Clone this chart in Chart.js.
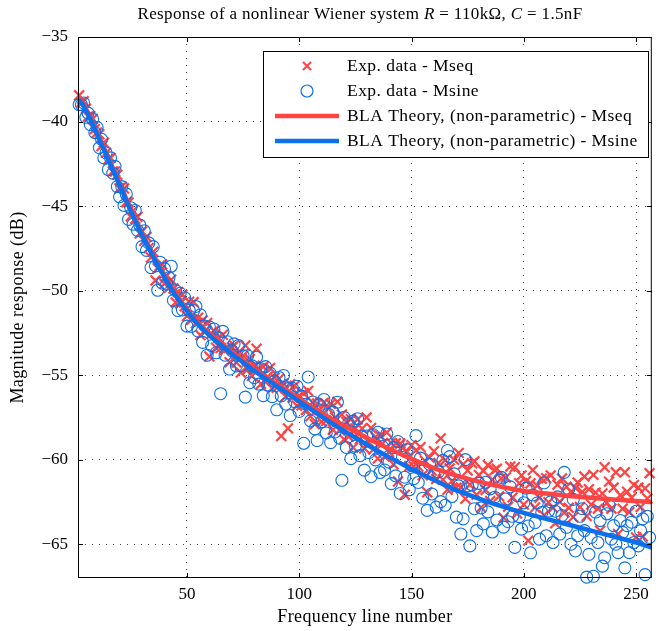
<!DOCTYPE html>
<html><head><meta charset="utf-8">
<script src="https://cdn.jsdelivr.net/npm/chart.js@4.4.0/dist/chart.umd.min.js"></script>
<style>html,body{margin:0;padding:0;background:#fff;}canvas{display:block;}</style>
</head><body>
<canvas id="c" width="661" height="631"></canvas>
<script>
// ---- data ----
const firstLine = 2; // frequency lines 2..256
const mseqMag = [
-38.45,-38.88,-38.8,-39.25,-39.7,-39.68,-39.85,-40.45,-40.65,-40.75,
-41.45,-41.25,-41.85,-42.25,-42.15,-42.95,-42.95,-43.15,-43.95,-43.85,
-43.96,-44.77,-44.79,-45.6,-45.28,-45.76,-45.64,-46.62,-46.5,-47.06,
-46.82,-47.48,-48.04,-47.7,-49.4,-48.68,-48.52,-48.46,-49.6,-49.12,
-49.84,-49.36,-49.88,-50.7,-50.08,-50.76,-50.24,-50.92,-51.5,-50.66,
-51.72,-50.68,-51.94,-51.6,-52.63,-51.76,-52.39,-51.92,-53.9,-52.56,
-52.37,-53.38,-52.79,-53.4,-52.61,-53.52,-53.33,-54.24,-53.35,-53.25,
-54.25,-53.75,-54.85,-53.85,-53.25,-54.65,-54.05,-55.05,-54.45,-53.44,
-54.63,-55.52,-54.51,-55.4,-55.09,-54.58,-55.77,-55.16,-55.75,-55.23,
-58.6,-55.49,-56.27,-58.15,-55.54,-56.33,-55.62,-56.81,-56.2,-56.79,
-56.07,-57.06,-55.94,-57.43,-56.61,-57.9,-56.68,-57.07,-57.75,-56.63,
-57.7,-56.98,-56.7,-58.23,-57.5,-56.58,-58.25,-57.33,-58.8,-57.77,
-58.64,-57.61,-59.28,-58.15,-57.62,-58.79,-58.16,-59.33,-57.5,-58.97,
-58.13,-59.4,-58.66,-59.93,-58.59,-59.06,-59.82,-58.39,-59.55,-59.01,
-60.27,-59.03,-61.29,-59.05,-59.31,-62.07,-59.53,-60.39,-59.15,-60.4,
-59.45,-60.41,-59.26,-60.92,-60.07,-61.93,-59.88,-60.64,-59.5,-61.15,
-60.2,-58.74,-61.19,-60.03,-61.78,-60.52,-61.27,-60.01,-61.66,-59.6,
-61.64,-60.27,-62.31,-60.64,-61.48,-60.21,-60.1,-62.08,-60.9,-62.83,
-60.66,-61.79,-60.32,-62.45,-61.18,-60.61,-60.54,-62.17,-61.1,-63.43,
-61.05,-62.78,-60.4,-62.23,-60.45,-63.18,-61.4,-60.93,-62.65,-61.27,
-64.79,-61.4,-60.62,-62.83,-61.55,-62.26,-61.13,-63.29,-61.1,-62.52,
-60.93,-62.85,-63.76,-61.48,-62.49,-61.11,-63.12,-61.6,-62.85,-61.9,
-63.4,-61.68,-61.35,-62.8,-61.91,-61.0,-63.33,-61.75,-62.65,-60.9,
-61.95,-62.9,-64.2,-62.0,-60.45,-62.55,-61.3,-62.9,-61.65,-60.75,
-64.4,-62.1,-62.9,-60.75,-61.9,-63.1,-62.25,-61.5,-64.6,-61.65,
-62.8,-64.55,-61.7,-62.3,-60.8
];
const msineMag = [
-39.0,-39.0,-38.9,-39.75,-39.5,-40.18,-39.85,-40.65,-40.35,-41.55,
-41.05,-42.15,-41.85,-42.85,-42.15,-43.05,-42.65,-43.85,-44.45,-43.85,
-44.96,-44.28,-45.79,-45.1,-46.08,-45.26,-46.44,-46.12,-47.4,-46.46,
-47.62,-47.18,-48.64,-47.4,-48.54,-49.98,-48.32,-49.56,-48.7,-49.62,
-49.24,-48.56,-50.58,-50.0,-51.18,-50.16,-51.14,-50.42,-52.1,-51.16,
-52.12,-51.18,-50.94,-52.4,-51.43,-53.06,-52.09,-53.82,-52.15,-53.26,
-52.27,-53.68,-52.79,-56.1,-52.41,-53.82,-53.03,-54.64,-53.55,-53.15,
-54.45,-53.25,-54.45,-53.85,-56.3,-53.85,-55.45,-54.45,-55.15,-53.94,
-55.53,-54.62,-56.21,-54.5,-55.59,-54.88,-56.27,-55.36,-57.05,-55.14,
-56.23,-55.02,-56.71,-55.8,-57.39,-55.78,-56.57,-55.66,-57.15,-56.24,
-59.03,-56.72,-55.11,-57.7,-56.59,-58.18,-58.87,-56.76,-57.75,-56.44,
-58.42,-57.31,-58.99,-57.18,-58.36,-56.6,-58.73,-61.22,-57.5,-59.28,
-57.86,-59.94,-57.72,-59.2,-57.58,-59.76,-58.64,-60.62,-58.6,-59.58,
-61.01,-58.53,-60.01,-58.38,-60.76,-59.23,-60.61,-58.48,-60.15,-61.42,
-59.29,-60.96,-58.93,-62.0,-59.87,-61.04,-59.41,-61.78,-60.35,-61.12,
-58.58,-61.35,-59.91,-62.28,-60.54,-63.0,-60.27,-62.03,-60.9,-62.81,
-60.72,-62.48,-60.04,-62.7,-59.46,-59.82,-62.18,-60.84,-63.4,-61.55,
-64.4,-63.5,-60.0,-61.55,-65.1,-61.5,-62.9,-64.2,-61.4,-62.85,
-63.8,-61.34,-63.09,-61.73,-64.28,-62.22,-63.57,-61.21,-61.05,-63.99,
-62.33,-63.67,-61.61,-63.35,-65.19,-62.13,-63.37,-64.11,-62.55,-61.69,
-63.92,-65.51,-62.09,-63.73,-62.56,-64.7,-63.13,-61.37,-64.5,-63.04,
-62.5,-64.9,-63.05,-62.2,-64.4,-63.3,-60.75,-64.0,-61.75,-65.0,
-62.35,-65.4,-64.5,-63.35,-62.9,-64.2,-66.95,-65.6,-64.6,-66.9,
-63.1,-64.9,-63.6,-66.3,-65.8,-63.2,-62.7,-64.7,-63.9,-65.0,
-65.5,-63.6,-64.3,-66.4,-63.9,-65.5,-63.7,-64.9,-63.05,-65.1,
-64.2,-63.5,-66.8,-63.35,-64.6
];
const theoryLines = [2,4,6,8,10,12,15,18,21,25,30,35,40,45,50,55,60,65,70,75,80,85,90,95,100,110,120,130,140,150,160,170,180,190,200,210,220,230,240,250,257];
const blaMseq = [-38.55,-39.0,-39.5,-40.05,-40.65,-41.25,-42.15,-43.05,-43.95,-45.2,-46.6,-47.9,-49.1,-50.2,-51.1,-51.9,-52.55,-53.1,-53.65,-54.15,-54.65,-55.1,-55.55,-55.95,-56.4,-57.25,-58.0,-58.7,-59.35,-59.95,-60.5,-60.95,-61.3,-61.6,-61.85,-62.0,-62.15,-62.25,-62.35,-62.45,-62.5];
const blaMsine = [-38.7,-39.1,-39.6,-40.15,-40.75,-41.35,-42.25,-43.15,-44.05,-45.3,-46.7,-48.0,-49.2,-50.3,-51.2,-52.0,-52.65,-53.2,-53.75,-54.25,-54.75,-55.2,-55.65,-56.1,-56.55,-57.45,-58.3,-59.1,-59.85,-60.55,-61.2,-61.8,-62.3,-62.75,-63.15,-63.5,-63.85,-64.2,-64.55,-64.9,-65.2];
const xTicks = [50,100,150,200,250];
const yTicks = [-65,-60,-55,-50,-45,-40,-35];
const seriesNames = ['Exp. data - Mseq','Exp. data - Msine','BLA Theory, (non-parametric) - Mseq','BLA Theory, (non-parametric) - Msine'];

// ---- styling ----
const FONT = '"Liberation Serif", "Times New Roman", serif';
const RED = 'rgb(255,66,66)';
const BLUE = 'rgb(12,112,236)';

const pts = (xs, ys) => ys.map((y, i) => ({x: xs[i], y}));
const lineNums = mseqMag.map((_, i) => firstLine + i);

const decor = {
  id: 'decor',
  afterDraw(chart) {
    const ctx = chart.ctx, a = chart.chartArea;
    const xs = chart.scales.x, ys = chart.scales.y;
    ctx.save();
    // frame
    ctx.strokeStyle = '#000'; ctx.lineWidth = 1; ctx.setLineDash([]);
    ctx.strokeRect(a.left + 0.5, a.top + 0.5, a.right - a.left - 1, a.bottom - a.top - 1);
    ctx.beginPath();
    xTicks.forEach(v => {
      const p = Math.round(xs.getPixelForValue(v)) + 0.5;
      ctx.moveTo(p, a.bottom); ctx.lineTo(p, a.bottom - 5);
      ctx.moveTo(p, a.top); ctx.lineTo(p, a.top + 5);
    });
    yTicks.forEach(v => {
      const p = Math.round(ys.getPixelForValue(v)) + 0.5;
      ctx.moveTo(a.left, p); ctx.lineTo(a.left + 5, p);
      ctx.moveTo(a.right, p); ctx.lineTo(a.right - 5, p);
    });
    ctx.stroke();
    // title with italic math symbols
    const segs = [['Response of a nonlinear Wiener system ', ''], ['R', 'italic '], [' = 110kΩ, ', ''], ['C', 'italic '], [' = 1.5nF', '']];
    ctx.fillStyle = '#000'; ctx.textBaseline = 'middle'; ctx.textAlign = 'left';
    ctx.letterSpacing = '0.35px';
    let tw = 0;
    segs.forEach(s => { ctx.font = s[1] + '17px ' + FONT; tw += ctx.measureText(s[0]).width; });
    let tx = 360 - tw / 2;
    segs.forEach(s => { ctx.font = s[1] + '17px ' + FONT; ctx.fillText(s[0], tx, 15); tx += ctx.measureText(s[0]).width; });
    // axis titles
    ctx.letterSpacing = '0.4px';
    ctx.font = '18px ' + FONT; ctx.textAlign = 'center';
    ctx.fillText('Frequency line number', (a.left + a.right) / 2, 617);
    ctx.save();
    ctx.translate(18, (a.top + a.bottom) / 2); ctx.rotate(-Math.PI / 2);
    ctx.fillText('Magnitude response (dB)', 0, 0);
    ctx.restore();
    // legend box
    const L = 263, T = 51, R = 648, B = 157;
    ctx.fillStyle = '#fff'; ctx.fillRect(L, T, R - L, B - T);
    ctx.strokeStyle = '#000'; ctx.lineWidth = 1;
    ctx.strokeRect(L + 0.5, T + 0.5, R - L, B - T);
    const rowsY = [66, 91, 116, 141];
    // marker 1: cross
    ctx.strokeStyle = RED; ctx.lineWidth = 2;
    ctx.beginPath();
    ctx.moveTo(307 - 4, rowsY[0] - 4); ctx.lineTo(307 + 4, rowsY[0] + 4);
    ctx.moveTo(307 + 4, rowsY[0] - 4); ctx.lineTo(307 - 4, rowsY[0] + 4);
    ctx.stroke();
    // marker 2: circle
    ctx.strokeStyle = BLUE; ctx.lineWidth = 1.2;
    ctx.beginPath(); ctx.arc(307, rowsY[1], 6, 0, Math.PI * 2); ctx.stroke();
    // lines
    ctx.lineWidth = 4.5;
    ctx.strokeStyle = RED; ctx.beginPath(); ctx.moveTo(275, rowsY[2]); ctx.lineTo(339, rowsY[2]); ctx.stroke();
    ctx.strokeStyle = BLUE; ctx.beginPath(); ctx.moveTo(275, rowsY[3]); ctx.lineTo(339, rowsY[3]); ctx.stroke();
    ctx.fillStyle = '#000'; ctx.font = '17.5px ' + FONT; ctx.textAlign = 'left'; ctx.textBaseline = 'middle';
    ctx.letterSpacing = '0.45px';
    seriesNames.forEach((n, i) => ctx.fillText(n, 347, rowsY[i]));
    ctx.restore();
  }
};

new Chart(document.getElementById('c'), {
  type: 'scatter',
  data: {
    datasets: [
      {label: seriesNames[0], data: pts(lineNums, mseqMag), showLine: false,
       pointStyle: 'crossRot', pointRadius: 7, pointBorderWidth: 2.2, borderColor: RED, backgroundColor: RED,
       pointHoverRadius: 7, order: 3, clip: false},
      {label: seriesNames[1], data: pts(lineNums, msineMag), showLine: false,
       pointStyle: 'circle', pointRadius: 6, pointBorderWidth: 1.1, borderColor: BLUE, backgroundColor: 'rgba(0,0,0,0)',
       order: 2, clip: false},
      {label: seriesNames[2], data: pts(theoryLines, blaMseq), showLine: true, pointRadius: 0,
       borderColor: RED, borderWidth: 4.5, cubicInterpolationMode: 'monotone', order: 1},
      {label: seriesNames[3], data: pts(theoryLines, blaMsine), showLine: true, pointRadius: 0,
       borderColor: BLUE, borderWidth: 4.5, cubicInterpolationMode: 'monotone', order: 0}
    ]
  },
  options: {
    responsive: false, animation: false, devicePixelRatio: 1,
    layout: {padding: {top: 37, right: 1, left: 0, bottom: 0}},
    plugins: {legend: {display: false}, title: {display: false}, tooltip: {enabled: false}},
    scales: {
      x: {type: 'linear', min: 1.5, max: 257,
          afterBuildTicks: s => { s.ticks = xTicks.map(v => ({value: v})); },
          afterFit: s => { s.height = 53; },
          ticks: {font: {family: FONT, size: 17}, color: '#000', padding: 6, maxRotation: 0, autoSkip: false,
                  callback: v => String(v)},
          grid: {color: '#444', lineWidth: 1, drawTicks: false},
          border: {display: false, dash: [1, 6]}},
      y: {type: 'linear', min: -67, max: -35,
          afterBuildTicks: s => { s.ticks = yTicks.map(v => ({value: v})); },
          afterFit: s => { s.width = 78; },
          ticks: {font: {family: FONT, size: 17}, color: '#000', padding: 10, autoSkip: false,
                  callback: v => '\u2212' + Math.abs(v)},
          grid: {color: '#444', lineWidth: 1, drawTicks: false},
          border: {display: false, dash: [1, 6]}}
    }
  },
  plugins: [decor]
});
</script>
</body></html>
